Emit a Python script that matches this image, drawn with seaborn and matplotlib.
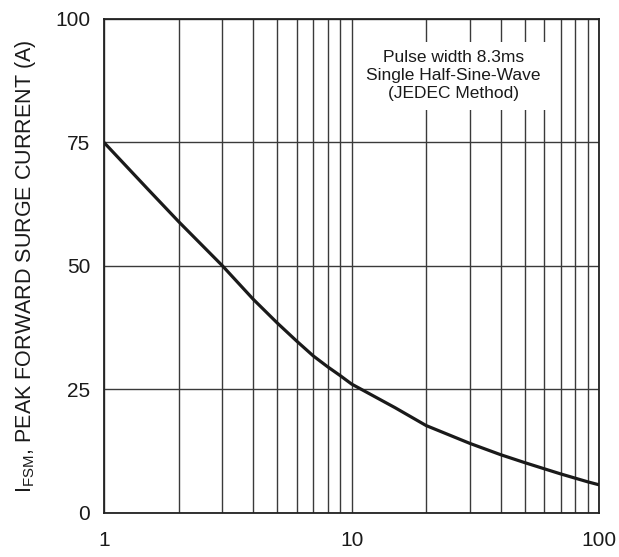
import matplotlib
matplotlib.use('Agg')
import matplotlib.pyplot as plt
import seaborn as sns
import numpy as np
import pandas as pd

# Number of cycles at 60 Hz vs peak forward surge current
cycles = [1, 1.5, 2, 3, 4, 5, 6, 7, 8, 9, 10, 15, 20, 30, 40, 50, 60, 70, 80, 90, 100]
surge_current = [75, 65.6, 59.0, 50.1, 43.3, 38.5, 34.8, 31.8, 29.6, 27.8, 26.1,
                 21.3, 17.7, 14.1, 11.8, 10.2, 8.95, 7.9, 7.05, 6.3, 5.7]

y_ticks = [0, 25, 50, 75, 100]
x_ticks = [1, 10, 100]
x_tick_labels = ['1', '10', '100']
note_text = 'Pulse width 8.3ms\nSingle Half-Sine-Wave\n(JEDEC Method)'


def plot_surge_curve(df):
    """Draw the surge current derating curve"""
    sns.set_style('white')
    plt.rcParams['font.family'] = ['Liberation Sans', 'DejaVu Sans']
    plt.rcParams['mathtext.fontset'] = 'custom'
    plt.rcParams['mathtext.rm'] = 'Liberation Sans'

    fig = plt.figure(figsize=(6.19, 5.57), dpi=100)
    ax = fig.add_axes([0.168, 0.079, 0.800, 0.887])

    sns.lineplot(data=df, x='cycles', y='current', ax=ax,
                 color='#1a1a1a', linewidth=2.3, zorder=3)

    ax.set_xscale('log')
    ax.set_xlim(1, 100)
    ax.set_ylim(0, 100)
    ax.set_xticks(x_ticks)
    ax.set_xticklabels(x_tick_labels)
    ax.set_yticks(y_ticks)

    # Grid: every minor decade line on x, quarter lines on y
    ax.grid(True, which='both', axis='x', color='#3a3a3a', linewidth=1.0)
    ax.grid(True, which='major', axis='y', color='#3a3a3a', linewidth=1.0)
    ax.tick_params(axis='both', which='both', length=0, labelsize=15,
                   labelcolor='#1a1a1a')
    ax.tick_params(axis='x', pad=13)
    ax.tick_params(axis='y', pad=10)

    for spine in ax.spines.values():
        spine.set_visible(True)
        spine.set_color('#222222')
        spine.set_linewidth(1.3)

    ax.set_xlabel('')
    ax.set_ylabel(r'I$_{\mathregular{FSM}}$, PEAK FORWARD SURGE CURRENT (A)',
                  fontsize=15.5, color='#1a1a1a', labelpad=12)

    ax.text(0.705, 0.885, note_text, transform=ax.transAxes,
            ha='center', va='center', fontsize=12.5, color='#1a1a1a',
            linespacing=1.25, zorder=4,
            bbox=dict(facecolor='white', edgecolor='none', pad=6))

    fig.savefig('out.png', dpi=100)
    plt.close(fig)


def main():
    df = pd.DataFrame({'cycles': cycles, 'current': surge_current})
    plot_surge_curve(df)


if __name__ == "__main__":
    main()
